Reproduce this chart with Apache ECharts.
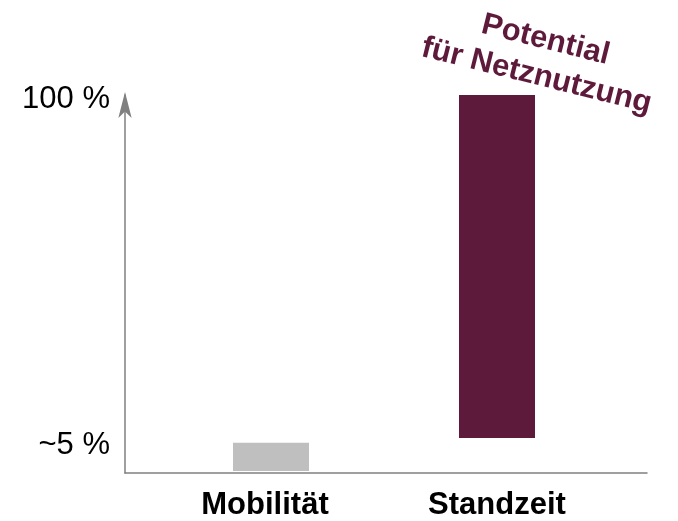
<!DOCTYPE html>
<html>
<head>
<meta charset="utf-8">
<script src="https://cdn.jsdelivr.net/npm/echarts@6/dist/echarts.min.js"></script>
<style>
html,body{margin:0;padding:0;background:#fff;}
#chart{width:678px;height:521px;}
</style>
</head>
<body>
<div id="chart"></div>
<script>
// Data
const categories = ['Mobilität', 'Standzeit'];
const barBase = [0, 8.8];          // bar start (% of axis)
const barTop = [7.5, 100];         // bar end (% of axis)
const barColors = ['#bfbfbf', '#5e1a3b'];
const tickValues = [7.3, 98.7];
const tickLabels = ['~5 %', '100 %'];
const annotation = 'Potential\nfür Netznutzung';

const FONT = '"Liberation Sans", Arial, Helvetica, sans-serif';
const AXIS_COLOR = '#808080';

const chart = echarts.init(document.getElementById('chart'), null, { renderer: 'canvas' });

const option = {
  animation: false,
  backgroundColor: '#ffffff',
  grid: [
    { left: 125, right: 31, top: 95, bottom: 48 },
    { left: 158, right: 68, top: 95, bottom: 48 }
  ],
  xAxis: [
    {
      gridIndex: 0, type: 'value', min: 0, max: 1,
      axisLine: { show: true, lineStyle: { color: AXIS_COLOR, width: 1.5 } },
      axisTick: { show: false }, axisLabel: { show: false }, splitLine: { show: false }
    },
    {
      gridIndex: 1, type: 'category',
      data: categories.map(function (c, i) {
        return i === 0 ? { value: c, textStyle: { padding: [0, 12, 0, 0] } } : c;
      }),
      axisLine: { show: false }, axisTick: { show: false }, splitLine: { show: false },
      axisLabel: { color: '#000', fontSize: 31, fontWeight: 'bold', fontFamily: FONT, margin: 19 }
    }
  ],
  yAxis: [
    {
      gridIndex: 0, type: 'value', min: 0, max: 100,
      axisLine: {
        show: true,
        lineStyle: { color: AXIS_COLOR, width: 1.5 },
        symbol: ['none', 'arrow'],
        symbolSize: [10, 26],
        symbolOffset: [0, 3]
      },
      axisTick: { show: false },
      splitLine: { show: false },
      axisLabel: {
        show: true,
        customValues: tickValues,
        formatter: function (v) {
          const i = tickValues.indexOf(v);
          return i >= 0 ? tickLabels[i] : '';
        },
        color: '#000', fontSize: 31, fontFamily: FONT, margin: 15
      }
    },
    {
      gridIndex: 1, type: 'value', min: 0, max: 100, show: false
    }
  ],
  series: [
    {
      type: 'bar', xAxisIndex: 1, yAxisIndex: 1, stack: 'b',
      barWidth: 76, silent: true,
      itemStyle: { color: 'transparent' },
      data: barBase
    },
    {
      type: 'bar', xAxisIndex: 1, yAxisIndex: 1, stack: 'b',
      barWidth: 76,
      data: barTop.map(function (t, i) {
        return { value: t - barBase[i], itemStyle: { color: barColors[i] } };
      })
    }
  ],
  graphic: [
    {
      type: 'text',
      x: 541, y: 58,
      rotation: -14 * Math.PI / 180,
      style: {
        text: annotation,
        align: 'center',
        verticalAlign: 'middle',
        font: 'bold 31px ' + FONT,
        lineHeight: 37,
        fill: '#5e1a3b'
      }
    }
  ]
};

chart.setOption(option);
</script>
</body>
</html>
